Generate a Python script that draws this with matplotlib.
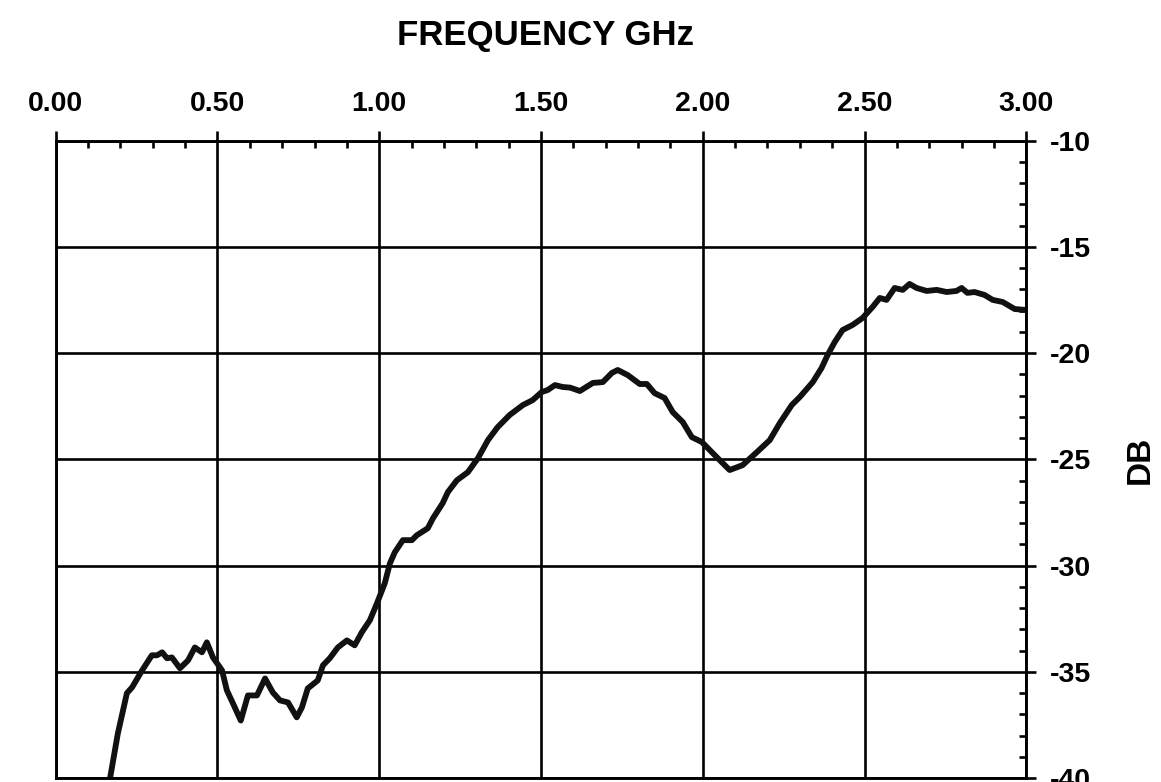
import matplotlib
matplotlib.use("Agg")
import matplotlib.pyplot as plt
from matplotlib.ticker import MultipleLocator, FormatStrFormatter

# 读取的曲线数据 (GHz, dB)
freq = [0.168, 0.192, 0.220, 0.236, 0.267, 0.297, 0.313, 0.329, 0.344, 0.359,
        0.384, 0.409, 0.430, 0.452, 0.467, 0.486, 0.514, 0.529, 0.548, 0.572,
        0.594, 0.622, 0.647, 0.671, 0.693, 0.718, 0.745, 0.761, 0.779, 0.810,
        0.826, 0.847, 0.872, 0.900, 0.924, 0.946, 0.971, 0.993, 1.017, 1.033,
        1.048, 1.073, 1.101, 1.116, 1.150, 1.166, 1.196, 1.212, 1.240, 1.274,
        1.305, 1.336, 1.366, 1.403, 1.444, 1.474, 1.502, 1.521, 1.543, 1.567,
        1.590, 1.620, 1.660, 1.691, 1.719, 1.737, 1.768, 1.805, 1.827, 1.851,
        1.882, 1.907, 1.938, 1.966, 1.997, 2.028, 2.052, 2.083, 2.123, 2.167,
        2.207, 2.238, 2.275, 2.300, 2.340, 2.367, 2.386, 2.408, 2.432, 2.463,
        2.494, 2.525, 2.547, 2.568, 2.593, 2.618, 2.639, 2.661, 2.692, 2.723,
        2.754, 2.784, 2.800, 2.818, 2.840, 2.871, 2.896, 2.927, 2.964, 2.995]
db = [-40.0, -37.9, -36.0, -35.73, -34.93, -34.22, -34.22, -34.08, -34.36, -34.32,
      -34.83, -34.46, -33.85, -34.08, -33.61, -34.32, -34.93, -35.87, -36.49, -37.29,
      -36.11, -36.11, -35.31, -35.97, -36.34, -36.44, -37.14, -36.67, -35.78, -35.40,
      -34.69, -34.36, -33.85, -33.52, -33.75, -33.14, -32.57, -31.77, -30.83, -29.89,
      -29.37, -28.80, -28.80, -28.57, -28.24, -27.77, -27.06, -26.54, -25.98, -25.60,
      -24.94, -24.09, -23.48, -22.91, -22.44, -22.21, -21.83, -21.73, -21.50, -21.59,
      -21.62, -21.78, -21.40, -21.36, -20.93, -20.79, -21.03, -21.45, -21.45, -21.88,
      -22.11, -22.77, -23.24, -23.95, -24.18, -24.66, -25.03, -25.50, -25.27, -24.66,
      -24.09, -23.29, -22.44, -22.06, -21.36, -20.70, -20.08, -19.47, -18.91, -18.67,
      -18.34, -17.82, -17.40, -17.49, -16.93, -17.02, -16.74, -16.93, -17.07, -17.02,
      -17.12, -17.07, -16.93, -17.16, -17.12, -17.26, -17.49, -17.59, -17.92, -17.96]

plt.rcParams['font.family'] = ['Liberation Sans', 'DejaVu Sans']
plt.rcParams['font.weight'] = 'bold'

fig = plt.figure(figsize=(11.61, 7.82), dpi=100)
ax = fig.add_axes([0.048, 0.005, 0.836, 0.815])

ax.plot(freq, db, color="#111111", lw=4.2, solid_joinstyle="round", solid_capstyle="round")

ax.set_xlim(0, 3)
ax.set_ylim(-40, -10)
ax.xaxis.set_major_locator(MultipleLocator(0.5))
ax.xaxis.set_minor_locator(MultipleLocator(0.1))
ax.yaxis.set_major_locator(MultipleLocator(5))
ax.yaxis.set_minor_locator(MultipleLocator(1))
ax.xaxis.set_major_formatter(FormatStrFormatter("%.2f"))
ax.yaxis.set_major_formatter(FormatStrFormatter("%d"))

ax.xaxis.tick_top()
ax.yaxis.tick_right()
ax.tick_params(which="major", direction="out", length=7, width=1.9, labelsize=20.5, pad=10)
ax.tick_params(which="minor", direction="in", length=5, width=1.9)
ax.grid(which="major", color="black", lw=1.9)
for s in ax.spines.values():
    s.set_linewidth(2.1)
    s.set_color("black")

fig.text(0.47, 0.955, "FREQUENCY GHz", ha="center", va="center", fontsize=25, fontweight="bold")
fig.text(0.982, 0.412, "DB", ha="center", va="center", rotation=90, fontsize=24, fontweight="bold")

fig.savefig("out.png", dpi=100)
